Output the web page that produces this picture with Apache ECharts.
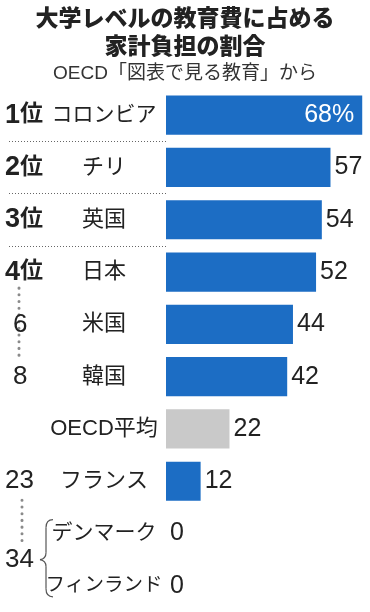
<!DOCTYPE html>
<html><head><meta charset="utf-8">
<script src="https://cdn.jsdelivr.net/npm/echarts@6/dist/echarts.min.js"></script>
<style>html,body{margin:0;padding:0;background:#fff}#c{width:370px;height:612px}</style>
</head><body><div id="c"></div>
<script>
var categories = ['コロンビア','チリ','英国','日本','米国','韓国','OECD平均','フランス','デンマーク','フィンランド'];
var values = [68,57,54,52,44,42,22,12,0,0];
var ranks = ['1位','2位','3位','4位','6','8','','23','34',''];
var FF = "'Liberation Sans','Noto Sans CJK JP',sans-serif";
var BLUE = '#1c6dc4', GREY = '#c9c9c9';

var chart = echarts.init(document.getElementById('c'), null, {renderer:'canvas'});
var data = values.map(function(v,i){
  var d = {value:v, itemStyle:{color: categories[i]==='OECD平均'?GREY:BLUE}};
  if(i===0){ d.label = {position:'insideRight', color:'#fff', distance:8, formatter:'{c}%'}; }
  return d;
});
function nameFmt(v){
  if(v==='コロンビア' || v==='デンマーク') return '{m|'+v+'}';
  if(v==='フィンランド') return '{s|'+v+'}';
  return '{b|'+v+'}';
}
function rankFmt(v, idx){
  var r = ranks[idx];
  if(!r) return '';
  if(r.indexOf('位')>0) return '{n|'+r.replace('位','')+'}{w|位}';
  if(r==='6'||r==='8') return '{s|'+r+'}';
  if(r==='34') return '{d|'+r+'}';
  return '{p|'+r+'}';
}
chart.setOption({
  animation:false,
  title:[
    {text:'大学レベルの教育費に占める\n家計負担の割合', left:'center', top:1,
     textStyle:{fontSize:23, fontWeight:900, lineHeight:28, color:'#222', fontFamily:FF}},
    {text:'OECD「図表で見る教育」から', left:'center', top:59,
     textStyle:{fontSize:19, fontWeight:'normal', color:'#333', fontFamily:FF}}
  ],
  grid:{left:166, right:2, top:89, bottom:0, containLabel:false},
  xAxis:{type:'value', min:0, max:70, show:false},
  yAxis:[
    {type:'category', data:categories, inverse:true,
     axisLine:{show:false}, axisTick:{show:false},
     axisLabel:{color:'#222', align:'center', margin:62, fontFamily:FF, formatter:nameFmt,
       rich:{
         b:{fontSize:22, color:'#222', fontFamily:FF},
         m:{fontSize:21, color:'#222', fontFamily:FF},
         s:{fontSize:19.5, color:'#222', fontFamily:FF}
       }}},
    {type:'category', data:categories, inverse:true, position:'left',
     axisLine:{show:false},
     axisTick:{show:true, length:159, interval:function(i){return i>=1&&i<=3;},
       lineStyle:{color:'#666', width:1, type:[1,2]}},
     axisLabel:{align:'left', margin:161, formatter:rankFmt, color:'#222', fontFamily:FF,
       rich:{
         n:{fontSize:27, fontWeight:'bold', color:'#222', fontFamily:FF},
         w:{fontSize:23, fontWeight:'bold', color:'#222', fontFamily:FF},
         s:{fontSize:26, color:'#222', fontFamily:FF, padding:[0,0,0,8]},
         p:{fontSize:26, color:'#222', fontFamily:FF},
         d:{fontSize:26, color:'#222', fontFamily:FF, padding:[52,0,0,0]}
       }}}
  ],
  series:[{type:'bar', data:data, barWidth:'75%', yAxisIndex:0,
    label:{show:true, position:'right', distance:4, fontSize:25, color:'#222', fontFamily:FF}}]
});

function py(name){ return chart.convertToPixel({yAxisIndex:0}, name); }
var y4 = py('日本'), y8 = py('韓国'), yFr = py('フランス'), yDk = py('デンマーク'), yFi = py('フィンランド');
var M = (yDk+yFi)/2, T = yDk-14, B = yFi+11;
var dot = {stroke:'#8a8a8a', lineWidth:3, lineCap:'round', lineDash:[0.1,6.6]};
var br = {fill:null, stroke:'#555', lineWidth:1.2};
chart.setOption({graphic:[
  {type:'line', shape:{x1:19,y1:y4+16,x2:19,y2:y8-16}, style:dot},
  {type:'line', shape:{x1:22,y1:yFr+19,x2:22,y2:M-16}, style:dot},
  {type:'bezierCurve', shape:{x1:53,y1:T,cpx1:46,cpy1:T,x2:46,y2:T+8}, style:br},
  {type:'line', shape:{x1:46,y1:T+8,x2:46,y2:M-7}, style:br},
  {type:'bezierCurve', shape:{x1:46,y1:M-7,cpx1:46,cpy1:M-1,x2:40,y2:M}, style:br},
  {type:'bezierCurve', shape:{x1:40,y1:M,cpx1:46,cpy1:M+1,x2:46,y2:M+7}, style:br},
  {type:'line', shape:{x1:46,y1:M+7,x2:46,y2:B-8}, style:br},
  {type:'bezierCurve', shape:{x1:46,y1:B-8,cpx1:46,cpy1:B,x2:53,y2:B}, style:br}
]});
</script></body></html>
